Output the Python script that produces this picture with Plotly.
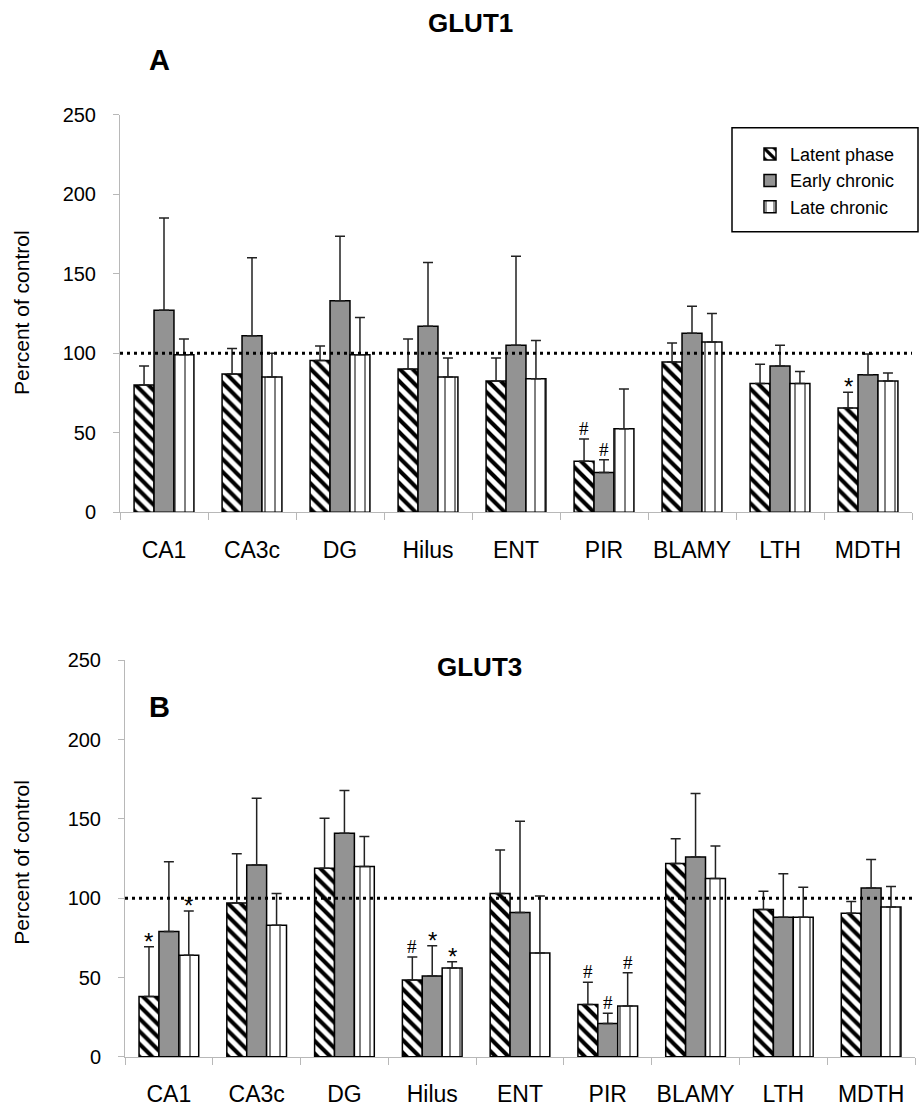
import plotly.graph_objects as go

regions = ["CA1", "CA3c", "DG", "Hilus", "ENT", "PIR", "BLAMY", "LTH", "MDTH"]
series = ["Latent phase", "Early chronic", "Late chronic"]

glut1_latent = [80, 87, 95.5, 90, 82.5, 32, 94.5, 81, 65.5]
glut1_latent_err = [12, 16, 9, 19, 14.5, 14, 12, 12, 10]
glut1_early = [127, 111, 133, 117, 105, 25, 112.5, 92, 86.5]
glut1_early_err = [58, 49, 40.5, 40, 56, 8, 17, 13, 13]
glut1_late = [99, 85, 99, 85, 84, 52.5, 107, 81, 82.5]
glut1_late_err = [10, 15, 23.5, 12, 24, 25, 18, 7.5, 5]

glut3_latent = [38, 97, 119, 48.5, 103, 33, 122, 93, 90.5]
glut3_latent_err = [31.5, 31, 31.5, 14.5, 27.5, 14, 15.5, 11.5, 7.5]
glut3_early = [79, 121, 141, 51, 91, 21, 126, 88, 106.5]
glut3_early_err = [44, 42, 27, 19, 57.5, 6.5, 40, 27.5, 18]
glut3_late = [64, 83, 120, 56, 65.5, 32, 112.5, 88, 94.5]
glut3_late_err = [28, 20, 19, 4, 36, 21, 20.5, 19, 13]

glut1_marks = [("Latent phase", "PIR", "#"), ("Early chronic", "PIR", "#"),
               ("Latent phase", "MDTH", "*")]
glut3_marks = [("Latent phase", "CA1", "*"), ("Late chronic", "CA1", "*"),
               ("Latent phase", "Hilus", "#"), ("Early chronic", "Hilus", "*"),
               ("Late chronic", "Hilus", "*"), ("Latent phase", "PIR", "#"),
               ("Early chronic", "PIR", "#"), ("Late chronic", "PIR", "#")]

reference_level = 100

W, H = 920, 1111
FONT = "Liberation Sans, Arial, sans-serif"

# vertical calibration of the rendered page (measured from a previous render)
V_OFF, V_SCALE = 11.4, 0.979


def py(y):
    """target pixel row -> paper fraction"""
    return 1 - ((y - V_OFF) / V_SCALE) / H


styles = {
    "Latent phase": dict(color="white", line=dict(color="black", width=1.5),
                         pattern=dict(shape="\\", fgcolor="black", bgcolor="white",
                                      size=9, solidity=0.45, fillmode="replace")),
    "Early chronic": dict(color="#939393", line=dict(color="black", width=1.5)),
    "Late chronic": dict(color="white", line=dict(color="black", width=1.5),
                         pattern=dict(shape="|", fgcolor="black", bgcolor="white",
                                      size=10, solidity=0.1, fillmode="replace")),
}

fig = go.Figure()

panels = [
    ("x", "y", [glut1_latent, glut1_early, glut1_late],
     [glut1_latent_err, glut1_early_err, glut1_late_err], glut1_marks, True),
    ("x2", "y2", [glut3_latent, glut3_early, glut3_late],
     [glut3_latent_err, glut3_early_err, glut3_late_err], glut3_marks, False),
]

annotations = []
for xa, ya, vals, errs, marks, show in panels:
    for name, v, e in zip(series, vals, errs):
        fig.add_trace(go.Bar(
            x=regions, y=v, name=name, xaxis=xa, yaxis=ya,
            marker=styles[name], showlegend=show, legendgroup=name,
            error_y=dict(type="data", symmetric=False, array=e,
                         arrayminus=[0] * len(e), color="#222222",
                         thickness=1.5, width=5),
        ))
    for s, reg, sym in marks:
        si = series.index(s)
        ri = regions.index(reg)
        top = vals[si][ri] + errs[si][ri]
        if sym == "*":
            f = dict(family=FONT, size=24, color="black")
            ys = -10
        else:
            f = dict(family="Liberation Serif, Times New Roman, serif", size=19, color="black")
            ys = -2
        annotations.append(dict(x=reg, y=top, xref=xa, yref=ya, text=sym,
                                showarrow=False, yanchor="bottom",
                                xshift=(si - 1) * 20, yshift=ys, font=f))

# panel geometry (pixels)
A_x0, A_x1, A_y0, A_y1 = 120, 912, 115, 512
B_x0, B_x1, B_y0, B_y1 = 125, 915, 660, 1056

axis_common = dict(showgrid=False, zeroline=False, showline=True,
                   linecolor="#b8b8b8", linewidth=1, ticks="outside",
                   tickcolor="#b8b8b8", tickwidth=1)
xcommon = dict(tickson="boundaries", ticklen=7, tickfont=dict(size=23),
               ticklabelstandoff=17, **axis_common)
ycommon = dict(range=[0, 250], dtick=50, ticklen=6, tickfont=dict(size=20),
               ticklabelstandoff=13, **axis_common)

fig.update_layout(
    width=W, height=H, margin=dict(l=0, r=0, t=0, b=0),
    paper_bgcolor="white", plot_bgcolor="white",
    barmode="group", bargap=0.32, bargroupgap=0,
    font=dict(family=FONT, color="black"),
    xaxis=dict(domain=[A_x0 / W, A_x1 / W], anchor="y", **xcommon),
    yaxis=dict(domain=[py(A_y1), py(A_y0)], anchor="x", **ycommon),
    xaxis2=dict(domain=[B_x0 / W, B_x1 / W], anchor="y2", **xcommon),
    yaxis2=dict(domain=[py(B_y1), py(B_y0)], anchor="x2", **ycommon),
    legend=dict(x=750 / W, y=py(181), xanchor="left", yanchor="middle",
                bgcolor="rgba(0,0,0,0)", borderwidth=0, tracegroupgap=0,
                font=dict(size=18, family=FONT), traceorder="normal"),
)

shapes = [
    dict(type="line", xref="x domain", yref="y", x0=0, x1=1,
         y0=reference_level, y1=reference_level,
         line=dict(color="black", width=3, dash="3px,4px")),
    dict(type="line", xref="x2 domain", yref="y2", x0=0, x1=1,
         y0=reference_level, y1=reference_level,
         line=dict(color="black", width=3, dash="3px,4px")),
    dict(type="rect", xref="paper", yref="paper", x0=732 / W, x1=918 / W,
         y0=py(232), y1=py(128), line=dict(color="black", width=1.5),
         fillcolor="rgba(0,0,0,0)"),
]

texts = [
    dict(text="<b>GLUT1</b>", x=470 / W, y=py(23), size=26),
    dict(text="<b>A</b>", x=159 / W, y=py(60), size=29),
    dict(text="<b>GLUT3</b>", x=479 / W, y=py(667), size=26),
    dict(text="<b>B</b>", x=159 / W, y=py(707), size=29),
]
for t in texts:
    annotations.append(dict(text=t["text"], x=t["x"], y=t["y"], xref="paper",
                            yref="paper", showarrow=False, xanchor="center",
                            yanchor="middle", font=dict(size=t["size"], family=FONT)))
for yc in (313, 862):
    annotations.append(dict(text="Percent of control", x=22 / W, y=py(yc),
                            xref="paper", yref="paper", showarrow=False,
                            textangle=-90, xanchor="center", yanchor="middle",
                            font=dict(size=21, family=FONT)))

fig.update_layout(shapes=shapes, annotations=annotations)

pin_js = (
    "document.documentElement.style.margin='0';"
    "document.body.style.margin='0';document.body.style.overflow='hidden';"
    "var gd=document.getElementById('{plot_id}');"
    "gd.style.position='fixed';gd.style.left='0px';gd.style.top='0px';"
)
fig.write_html("out.html", post_script=pin_js, config={"displayModeBar": False})
